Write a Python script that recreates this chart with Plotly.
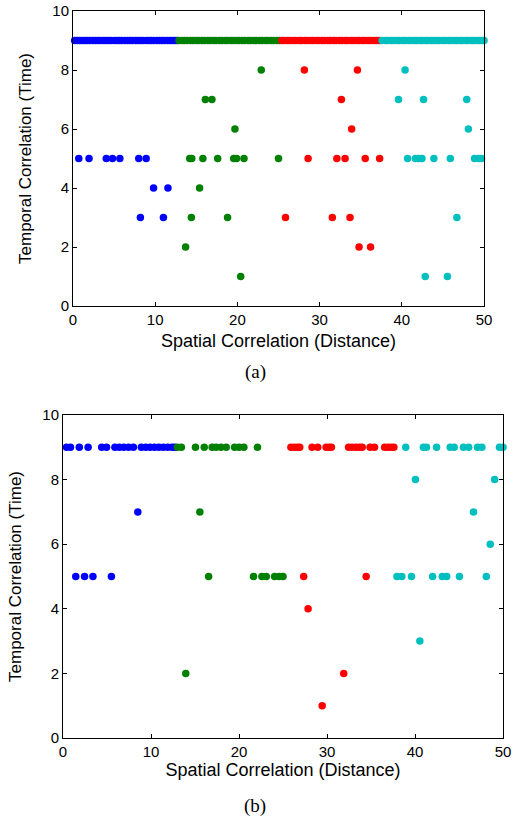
import plotly.graph_objects as go

# ---------------- data: panel (a) ----------------
a_blue_x = [0.2, 0.5, 0.8, 1.1, 1.4, 1.7, 2.0, 2.4, 2.7, 3.0, 3.3, 3.7, 4.0, 4.3, 4.6, 5.0, 5.3, 5.6, 5.9,
            6.3, 6.6, 6.9, 7.2, 7.6, 7.9, 8.2, 8.5, 8.9, 9.2, 9.5, 9.8, 10.2, 10.5, 10.8, 11.1, 11.5, 11.8,
            12.1, 12.4, 12.7,
            0.7, 1.95, 4.05, 4.8, 5.7, 8.0, 8.9,
            9.8, 11.55,
            8.2, 11.0]
a_blue_y = [9] * 40 + [5] * 7 + [4] * 2 + [3] * 2

a_green_x = [12.9, 13.3, 13.6, 13.9, 14.3, 14.6, 15.0, 15.3, 15.7, 16.0, 16.4, 16.7, 17.1, 17.4, 17.8, 18.1,
             18.5, 18.8, 19.2, 19.5, 19.9, 20.2, 20.6, 20.9, 21.3, 21.6, 22.0, 22.3, 22.7, 23.0, 23.4, 23.7,
             24.1, 24.4, 24.8, 25.1,
             22.9,
             16.1, 16.9,
             19.7,
             14.2, 14.45, 15.8, 17.6, 19.55, 19.9, 20.8, 25.0,
             15.4,
             14.4, 18.8,
             13.7,
             20.4]
a_green_y = [9] * 36 + [8] + [7] * 2 + [6] + [5] * 8 + [4] + [3] * 2 + [2] + [1]

a_red_x = [25.4, 25.7, 26.1, 26.4, 26.8, 27.1, 27.5, 27.8, 28.2, 28.5, 28.9, 29.2, 29.6, 29.9, 30.3, 30.6,
           31.0, 31.3, 31.7, 32.0, 32.4, 32.7, 33.1, 33.4, 33.8, 34.1, 34.5, 34.8, 35.2, 35.5, 35.9, 36.2,
           36.6, 36.9, 37.3,
           28.15, 34.6,
           32.65,
           33.9,
           28.6, 32.1, 33.1, 35.55, 37.3,
           25.85, 31.55, 33.7,
           34.8, 36.2]
a_red_y = [9] * 35 + [8] * 2 + [7] + [6] + [5] * 5 + [3] * 3 + [2] * 2

a_cyan_x = [37.6, 38.0, 38.3, 38.7, 39.0, 39.4, 39.7, 40.1, 40.4, 40.8, 41.1, 41.5, 41.8, 42.2, 42.5, 42.9,
            43.2, 43.6, 43.9, 44.3, 44.6, 45.0, 45.3, 45.7, 46.0, 46.4, 46.7, 47.1, 47.4, 47.8, 48.1, 48.5,
            48.8, 49.2, 49.5, 49.8, 50.0,
            40.4,
            39.6, 42.65, 47.9,
            48.1,
            40.7, 41.65, 42.05, 42.45, 43.9, 45.9, 48.85, 49.35, 49.7,
            46.7,
            42.85, 45.55]
a_cyan_y = [9] * 37 + [8] + [7] * 3 + [6] + [5] * 9 + [3] + [1] * 2

# ---------------- data: panel (b) ----------------
b_blue_x = [0.4, 0.85, 1.85, 2.85, 4.4, 4.95, 5.9, 6.4, 6.9, 7.45, 8.0, 8.9, 9.4, 9.9, 10.4, 10.9, 11.4,
            11.9, 12.4, 12.7,
            8.5,
            1.45, 2.45, 3.4, 5.5]
b_blue_y = [9] * 20 + [7] + [5] * 4

b_green_x = [13.0, 13.45, 15.05, 16.05, 16.95, 17.4, 17.95, 18.55, 19.5, 20.0, 20.55, 22.1,
             15.55,
             16.55, 21.65, 22.6, 23.1, 24.05, 24.55, 25.0,
             13.95]
b_green_y = [9] * 12 + [7] + [5] * 7 + [2]

b_red_x = [25.9, 26.3, 26.65, 26.9, 28.3, 28.95, 29.9, 30.25, 30.5, 32.45, 32.85, 33.3, 33.7, 34.0,
           34.9, 35.4, 36.55, 36.95, 37.3, 37.6,
           27.35, 34.45,
           27.85,
           31.9,
           29.45]
b_red_y = [9] * 20 + [5] * 2 + [4] + [2] + [1]

b_cyan_x = [38.95, 40.95, 41.3, 42.45, 44.0, 44.45, 45.5, 46.1, 47.1, 47.6, 49.6, 50.0,
            40.05, 49.05,
            46.65,
            48.55,
            37.95, 38.5, 39.6, 42.0, 43.1, 43.6, 45.05, 48.1,
            40.55]
b_cyan_y = [9] * 12 + [8] * 2 + [7] + [6] + [5] * 8 + [3]

x_ticks = [0, 10, 20, 30, 40, 50]
y_ticks = [0, 2, 4, 6, 8, 10]

COLORS = {"blue": "#0000FF", "green": "#008000", "red": "#FF0000", "cyan": "#00BFBF"}

fig = go.Figure()

panel_a = [(a_blue_x, a_blue_y, "blue"), (a_green_x, a_green_y, "green"),
           (a_red_x, a_red_y, "red"), (a_cyan_x, a_cyan_y, "cyan")]
panel_b = [(b_blue_x, b_blue_y, "blue"), (b_green_x, b_green_y, "green"),
           (b_red_x, b_red_y, "red"), (b_cyan_x, b_cyan_y, "cyan")]

for xs, ys, c in panel_a:
    fig.add_trace(go.Scatter(x=xs, y=ys, mode="markers", xaxis="x", yaxis="y",
                             marker=dict(color=COLORS[c], size=7.5, line=dict(width=0)),
                             cliponaxis=False, showlegend=False, hoverinfo="x+y"))
for xs, ys, c in panel_b:
    fig.add_trace(go.Scatter(x=xs, y=ys, mode="markers", xaxis="x2", yaxis="y2",
                             marker=dict(color=COLORS[c], size=7.5, line=dict(width=0)),
                             cliponaxis=False, showlegend=False, hoverinfo="x+y"))

W, H = 518, 823
TICKFONT = dict(family="Liberation Sans, Arial", size=15, color="black")
XTITLEFONT = dict(family="Liberation Sans, Arial", size=18, color="black")
YTITLEFONT = dict(family="Liberation Sans, Arial", size=17, color="black")


def xaxis_cfg(domain, anchor, standoff):
    return dict(domain=domain, anchor=anchor, range=[0, 50], tickvals=x_ticks,
                showline=True, linecolor="black", linewidth=1, mirror="ticks",
                ticks="inside", ticklen=4, tickcolor="black", tickwidth=1,
                showgrid=False, zeroline=False, tickfont=TICKFONT,
                title=dict(text="Spatial Correlation (Distance)", font=XTITLEFONT, standoff=standoff),
                automargin=False)


def yaxis_cfg(domain, anchor, standoff):
    return dict(domain=domain, anchor=anchor, range=[0, 10], tickvals=y_ticks,
                showline=True, linecolor="black", linewidth=1, mirror="ticks",
                ticks="inside", ticklen=4, tickcolor="black", tickwidth=1,
                showgrid=False, zeroline=False, tickfont=TICKFONT,
                title=dict(text="Temporal Correlation (Time)", font=YTITLEFONT, standoff=standoff),
                automargin=False)


fig.update_layout(
    width=W, height=H,
    margin=dict(l=0, r=0, t=0, b=0),
    paper_bgcolor="white", plot_bgcolor="white",
    xaxis=xaxis_cfg([73 / W, 484 / W], "y", 7),
    yaxis=yaxis_cfg([1 - 306 / H, 1 - 11 / H], "x", 16),
    xaxis2=xaxis_cfg([63 / W, 503 / W], "y2", 4),
    yaxis2=yaxis_cfg([1 - 738 / H, 1 - 415 / H], "x2", 16),
    annotations=[
        dict(text="(a)", x=255 / W, y=1 - 372 / H, xref="paper", yref="paper",
             xanchor="center", yanchor="middle", showarrow=False,
             font=dict(family="Liberation Serif, Times New Roman", size=19, color="black")),
        dict(text="(b)", x=255 / W, y=1 - 806 / H, xref="paper", yref="paper",
             xanchor="center", yanchor="middle", showarrow=False,
             font=dict(family="Liberation Serif, Times New Roman", size=19, color="black")),
    ],
)

fig.write_html("out.html")
